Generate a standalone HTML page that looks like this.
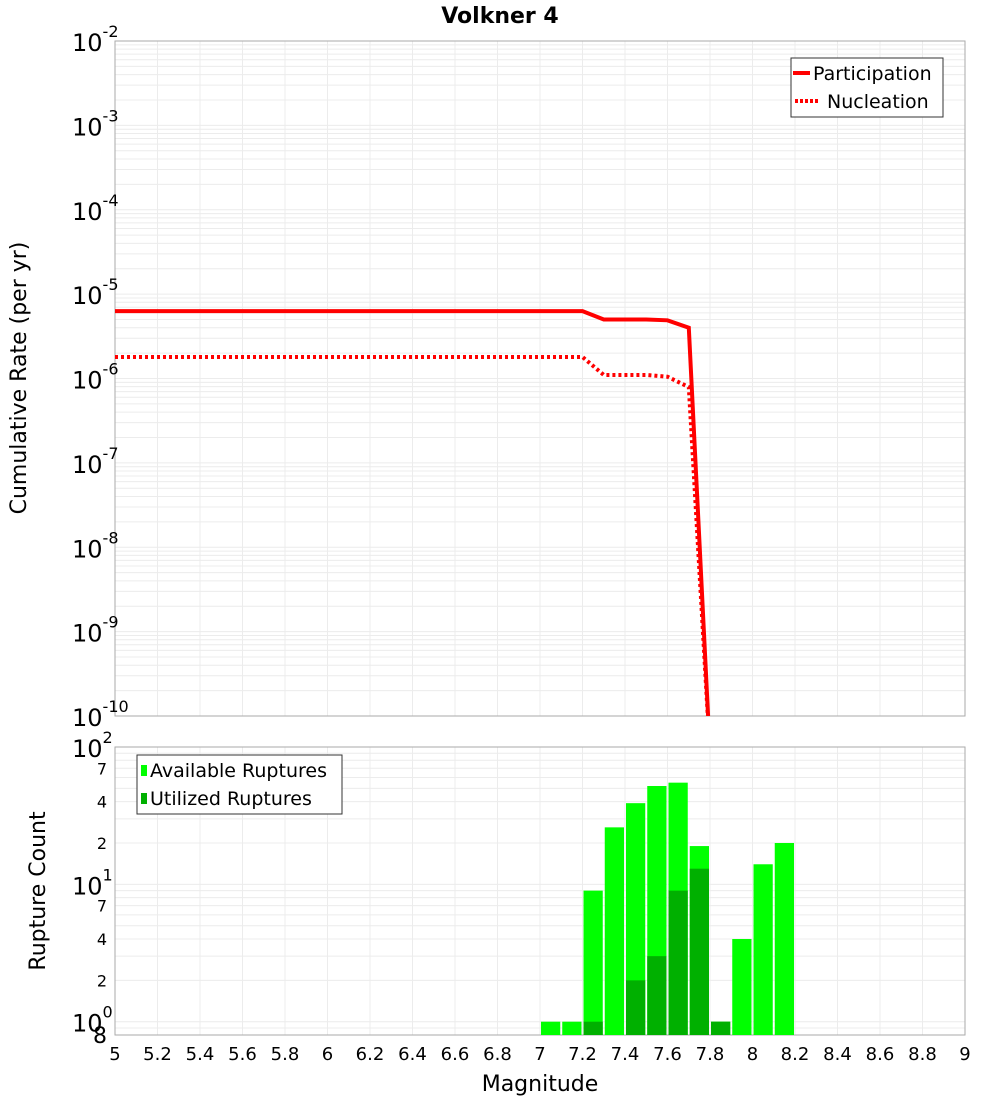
<!DOCTYPE html>
<html><head><meta charset="utf-8"><style>
body{margin:0;background:#fff;}
svg{display:block;font-family:"DejaVu Sans","Liberation Sans",sans-serif;}
</style></head><body>
<svg id="c" width="1000" height="1100" xmlns="http://www.w3.org/2000/svg"></svg>
<script>
const mags=[5,7.2,7.3,7.5,7.6,7.7,7.8];
const participation=[6.3e-6,6.3e-6,5.0e-6,5.0e-6,4.9e-6,4.0e-6,3.5e-11];
const nucleation=[1.8e-6,1.8e-6,1.1e-6,1.1e-6,1.05e-6,7.9e-7,3.5e-11];
const binStarts=[7.0,7.1,7.2,7.3,7.4,7.5,7.6,7.7,7.8,7.9,8.0,8.1];
const available=[1,1,9,26,39,52,55,19,1,4,14,20];
const utilized=[0,0,1,0,2,3,9,13,1,0,0,0];
const xTicks=[5,5.2,5.4,5.6,5.8,6,6.2,6.4,6.6,6.8,7,7.2,7.4,7.6,7.8,8,8.2,8.4,8.6,8.8,9];

const NS="http://www.w3.org/2000/svg";
const svg=document.getElementById('c');
function el(tag,attrs,parent){const e=document.createElementNS(NS,tag);for(const k in attrs)e.setAttribute(k,attrs[k]);(parent||svg).appendChild(e);return e;}
const L=115,R=965,T1=41,B1=716,T2=747,B2=1035;
const x=m=>L+(m-5)/(9-5)*(R-L);
const y1=v=>T1+(-2-Math.log10(v))*(B1-T1)/8;
const lo2=Math.log10(0.8),hi2=2;
const y2=v=>B2-(Math.log10(v)-lo2)/(hi2-lo2)*(B2-T2);

// clip paths
const defs=el('defs',{});
const cp=el('clipPath',{id:'cp1'},defs);el('rect',{x:L,y:T1,width:R-L,height:B1-T1},cp);

// grids
const g=el('g',{});

for(const t of xTicks){
  el('line',{x1:x(t),x2:x(t),y1:T1,y2:B1,stroke:'#ececec'},g);
  el('line',{x1:x(t),x2:x(t),y1:T2,y2:B2,stroke:'#ececec'},g);
}
for(let e=-10;e<-2;e++)for(let k=1;k<10;k++){const yy=y1(k*Math.pow(10,e));el('line',{x1:L,x2:R,y1:yy,y2:yy,stroke:'#ececec'},g);}
for(let e=-1;e<2;e++)for(let k=1;k<10;k++){const v=k*Math.pow(10,e);if(v<0.8||v>100)continue;const yy=y2(v);el('line',{x1:L,x2:R,y1:yy,y2:yy,stroke:'#ececec'},g);}

// frames
const f1=el('rect',{x:L,y:T1,width:R-L,height:B1-T1,fill:'none',stroke:'#aaa'});

const f2=el('rect',{x:L,y:T2,width:R-L,height:B2-T2,fill:'none',stroke:'#aaa'});


// lines
function pts(arr){return mags.map((m,i)=>x(m).toFixed(1)+','+y1(arr[i]).toFixed(1)).join(' ');}
const lp=el('polyline',{points:pts(participation),fill:'none',stroke:'#ff0000','stroke-width':4,'clip-path':'url(#cp1)'});

const ln=el('polyline',{points:pts(nucleation),fill:'none',stroke:'#ff0000','stroke-width':4,'stroke-dasharray':'3,3','clip-path':'url(#cp1)'});


// bars
binStarts.forEach((m,i)=>{
  const x0=x(m)+1,w=x(m+0.1)-x(m)-2;
  if(available[i]>0){const r=el('rect',{x:x0,y:y2(available[i]),width:w,height:B2-y2(available[i]),fill:'#00ff00'});
    }
  if(utilized[i]>0){const r=el('rect',{x:x0,y:y2(utilized[i]),width:w,height:B2-y2(utilized[i]),fill:'#00b000'});
    }
});

// x tick labels
for(const t of xTicks){const tx=el('text',{x:x(t),y:1060,'font-size':18,'text-anchor':'middle'});tx.textContent=String(t);
  }

// top y labels
for(let e=-10;e<=-2;e++){
  const tx=el('text',{x:103,y:y1(Math.pow(10,e))+10,'font-size':24,'text-anchor':'end'});
  tx.textContent='10';
  const s=el('tspan',{dy:-14,'font-size':16},tx);s.textContent=String(e);
  tx.setAttribute('x',72);tx.setAttribute('text-anchor','start');
  
}
// bottom y labels
[[100,'2'],[10,'1'],[1,'0']].forEach(([v,e])=>{
  const tx=el('text',{x:72,y:y2(v)+10,'font-size':24});tx.textContent='10';
  const s=el('tspan',{dy:-14,'font-size':16},tx);s.textContent=e;
  
});
[[70,'7'],[40,'4'],[20,'2'],[7,'7'],[4,'4'],[2,'2'],[0.8,'8']].forEach(([v,t])=>{
  const tx=el('text',{x:107,y:y2(v)+6,'font-size':16,'text-anchor':'end'});tx.textContent=t;
  if(t==='8'&&v<1){tx.setAttribute('font-size',22);tx.setAttribute('y',y2(v)+8);}
  
});

// titles
const tt=el('text',{x:500,y:23,'font-size':22,'font-weight':'bold','text-anchor':'middle'});tt.textContent='Volkner 4';

const xt=el('text',{x:540,y:1091,'font-size':22,'text-anchor':'middle'});xt.textContent='Magnitude';

const yt=el('text',{x:0,y:0,'font-size':22,'text-anchor':'middle',transform:'translate(26,378) rotate(-90)'});yt.textContent='Cumulative Rate (per yr)';

const yt2=el('text',{x:0,y:0,'font-size':22,'text-anchor':'middle',transform:'translate(45,891) rotate(-90)'});yt2.textContent='Rupture Count';


// legend top
const lg=el('g',{});
el('rect',{x:791,y:58,width:152,height:59,fill:'#fff',stroke:'#333'},lg);
el('line',{x1:793,x2:810,y1:73,y2:73,stroke:'#f00','stroke-width':4},lg);
el('line',{x1:795,x2:820,y1:101,y2:101,stroke:'#f00','stroke-width':4,'stroke-dasharray':'3,2'},lg);
let t=el('text',{x:813,y:80,'font-size':19},lg);t.textContent='Participation';

t=el('text',{x:827,y:108,'font-size':19},lg);t.textContent='Nucleation';


// legend bottom
const lg2=el('g',{});
el('rect',{x:137,y:755,width:205,height:59,fill:'#fff',stroke:'#333'},lg2);
el('rect',{x:141,y:765,width:6,height:11,fill:'#00ff00'},lg2);
el('rect',{x:141,y:793,width:6,height:11,fill:'#00b000'},lg2);
t=el('text',{x:150,y:777,'font-size':19},lg2);t.textContent='Available Ruptures';

t=el('text',{x:150,y:805,'font-size':19},lg2);t.textContent='Utilized Ruptures';

</script>
</body></html>
